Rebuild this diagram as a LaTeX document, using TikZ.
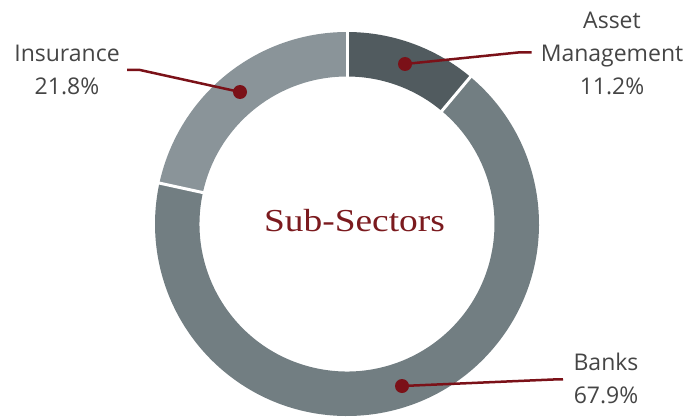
\documentclass[tikz,border=0pt]{standalone}
\usepackage{fontspec}
\setmainfont{Open Sans}
\newfontfamily\titlefont[FakeStretch=1.17]{Liberation Serif}
\definecolor{amcol}{HTML}{515B5F}
\definecolor{bkcol}{HTML}{727E82}
\definecolor{incol}{HTML}{8A9499}
\definecolor{leadred}{HTML}{7B1118}
\definecolor{titlered}{HTML}{7B1A1E}
\definecolor{labgray}{HTML}{454545}
\begin{document}
\begin{tikzpicture}[x=1pt,y=1pt,
  lab/.style={anchor=base,inner sep=0pt,text=labgray,font=\fontsize{23}{27}\selectfont},
  dotnode/.style={circle,fill=leadred,inner sep=0pt,minimum size=14pt},
  leader/.style={draw=leadred,line width=2.5pt},
  sep/.style={draw=white,line width=3pt},
  titlestyle/.style={anchor=base,inner sep=0pt,text=titlered,font=\titlefont\fontsize{32}{38}\selectfont}]
\useasboundingbox (0,0) rectangle (698,416);
\coordinate (c) at (347,192);
% ring segments
\fill[amcol] ([shift={(90:192)}]c) arc[start angle=90,end angle=50,radius=192]
  -- ([shift={(50:147.5)}]c) arc[start angle=50,end angle=90,radius=147.5] -- cycle;
\fill[bkcol] ([shift={(50:192)}]c) arc[start angle=50,end angle=-192.3,radius=192]
  -- ([shift={(-192.3:147.5)}]c) arc[start angle=-192.3,end angle=50,radius=147.5] -- cycle;
\fill[incol] ([shift={(-192.3:192)}]c) arc[start angle=-192.3,end angle=-270,radius=192]
  -- ([shift={(-270:147.5)}]c) arc[start angle=-270,end angle=-192.3,radius=147.5] -- cycle;
% separators
\draw[sep] ([shift={(90:144)}]c) -- ([shift={(90:196)}]c);
\draw[sep] ([shift={(50:144)}]c) -- ([shift={(50:196)}]c);
\draw[sep] ([shift={(167.7:144)}]c) -- ([shift={(167.7:196)}]c);
% title
\node[titlestyle] (title) at (354.5,184.3) {Sub-Sectors};
% labels
\node[lab] (amname) at (612,387.5) {Asset};
\node[lab] (amname2) at (612,354.5) {Management};
\node[lab] (amval) at (612,322) {11.2\%};
\node[lab] (inname) at (67,354.3) {Insurance};
\node[lab] (inval) at (67,321.5) {21.8\%};
\node[lab] (bkname) at (606,46) {Banks};
\node[lab] (bkval) at (606,13) {67.9\%};
% dots
\node[dotnode] (amdot) at (405,352) {};
\node[dotnode] (indot) at (240,324) {};
\node[dotnode] (bkdot) at (402,30) {};
% leader points
\coordinate (amelbow) at (518,363.5);
\coordinate (amend) at (531.5,363.5);
\coordinate (inelbow) at (140,346);
\coordinate (inend) at (127,346);
\coordinate (bkelbow) at (553,36.5);
\coordinate (bkend) at (563,36.7);
\draw[leader] (amdot.center) -- (amelbow) -- (amend);
\draw[leader] (indot.center) -- (inelbow) -- (inend);
\draw[leader] (bkdot.center) -- (bkelbow) -- (bkend);
\end{tikzpicture}
\end{document}
